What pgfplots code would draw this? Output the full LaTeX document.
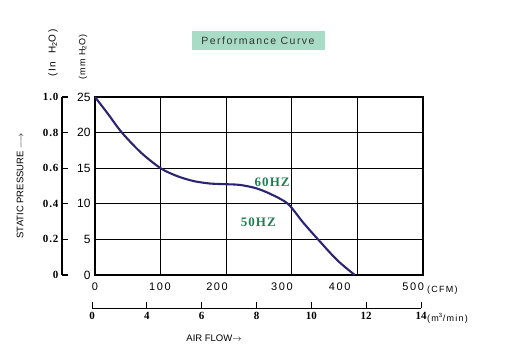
\documentclass[border=0pt]{standalone}
\usepackage{pgfplots}
\pgfplotsset{compat=1.18}
\usepackage{fontspec}
\setmainfont{Liberation Serif}
\setsansfont{Liberation Sans}
\setmonofont{Liberation Mono}
\newfontfamily\spsans{Liberation Sans}[LetterSpace=14]
\newfontfamily\spserif{Liberation Serif}[LetterSpace=8]
\definecolor{curve}{HTML}{2B2470}
\definecolor{hz}{HTML}{1F7F4F}
\definecolor{titlebg}{HTML}{A9DCC6}
\definecolor{titletext}{HTML}{333333}
\begin{document}
\begin{tikzpicture}[x=1pt,y=1pt]
\path[use as bounding box] (0,0) rectangle (516,353);
% main axis
\begin{axis}[
  at={(95pt,78pt)}, anchor=south west, scale only axis,
  width=328pt, height=178pt,
  xmin=0, xmax=500, ymin=0, ymax=25,
  xtick={0,100,...,500}, ytick={0,5,...,25},
  xticklabels={},
  extra x ticks={0,99,186,285,373,485},
  extra x tick labels={0,100,200,300,400,500},
  extra x tick style={grid=none, major tick length=0pt},
  grid=major,
  major grid style={black, line width=1.3pt},
  axis line style={black, line width=1.3pt},
  major tick length=0pt,
  xticklabel style={font=\spsans\fontsize{11}{12}\selectfont, yshift=-4pt},
  yticklabel style={font=\sffamily\fontsize{12}{13}\selectfont, xshift=-1pt},
  /pgf/number format/assume math mode=true,
  clip=false,
]
\addplot[curve, line width=2.1pt, smooth, tension=0.5] coordinates {
(0,25) (20,22.6) (41,20) (70,17.2) (100,15) (125,13.9) (150,13.2)
(175,12.85) (200,12.75) (221,12.65) (245,12.2) (267,11.4) (294,10)
(317,7.4) (340,5) (369,2.1) (396,0)};
\node[font=\spserif\bfseries\fontsize{13}{14}\selectfont, text=hz] at (axis cs:270,13.0) {60HZ};
\node[font=\spserif\bfseries\fontsize{13}{14}\selectfont, text=hz] at (axis cs:249,7.4) {50HZ};
\node[font=\spsans\fontsize{9}{10}\selectfont, anchor=west, inner sep=0pt] at ([yshift=-15pt,xshift=4pt]rel axis cs:1,0) {(CFM)};
\end{axis}
% left outer axis (In H2O)
\begin{axis}[
  name=leftax,
  at={(62pt,78pt)}, anchor=south west, scale only axis,
  width=10pt, height=178pt,
  xmin=0, xmax=1, ymin=0, ymax=1,
  axis x line=none, axis y line*=left,
  ytick={0,0.2,0.4,0.6,0.8,1},
  yticklabels={0,0.2,0.4,0.6,0.8,1.0},
  tick align=inside, major tick length=6pt,
  axis line style={black, line width=1pt},
  every tick/.style={black, line width=1.1pt},
  yticklabel style={font=\spserif\bfseries\fontsize{11}{12}\selectfont, xshift=0pt},
  /pgf/number format/assume math mode=true,
  clip=false,
]
\end{axis}
\draw[black, line width=1.2pt] (62,78) -- (62,256);
% bottom axis (m3/min)
\begin{axis}[
  at={(92pt,45pt)}, anchor=south west, scale only axis,
  width=329pt, height=1pt,
  xmin=0, xmax=6, ymin=0, ymax=1,
  axis y line=none, axis x line*=bottom,
  xtick={0,...,6},
  xticklabels={0,4,6,8,10,12,14},
  tick align=inside, major tick length=6pt,
  axis line style={black, line width=1pt},
  every tick/.style={black, line width=1pt},
  xticklabel style={font=\bfseries\fontsize{11}{12}\selectfont, yshift=-1pt},
  /pgf/number format/assume math mode=true,
  clip=false,
]
\node[font=\spsans\fontsize{9}{10}\selectfont, anchor=west, inner sep=0pt] at ([yshift=-10pt,xshift=6pt]rel axis cs:1,0) {(m\textsuperscript{3}/min)};
\end{axis}
% labels
\node[font=\sffamily\fontsize{9.5}{11}\selectfont] at (214,15) {AIR FLOW$\rightarrow$};
\node[font=\sffamily\fontsize{9.5}{11}\selectfont, rotate=90] at (20,167) {STATIC PRESSURE $\longrightarrow$};
\node[font=\spsans\fontsize{10}{11}\selectfont, rotate=90] at (53,300) {(In\ \ H\textsubscript{2}O)};
\node[font=\spsans\fontsize{9}{10}\selectfont, rotate=90] at (83,296) {(mm H\textsubscript{2}O)};
\node[fill=titlebg, text=titletext, font=\spsans\fontsize{10.5}{12}\selectfont, minimum width=133pt, minimum height=19pt, inner sep=2pt] at (258,312) {Performance Curve};
\end{tikzpicture}
\end{document}
